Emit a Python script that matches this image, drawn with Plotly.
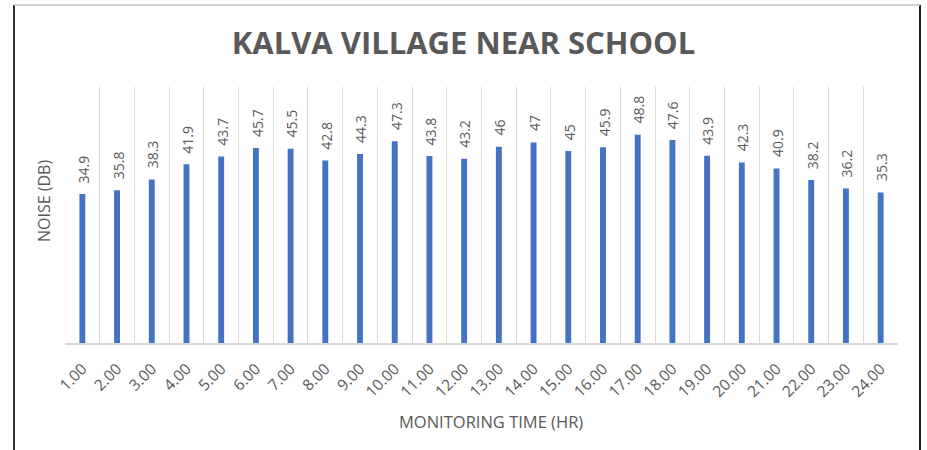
import plotly.graph_objects as go

hours = [f"{h:.2f}" for h in range(1, 25)]
noise_db = [34.9, 35.8, 38.3, 41.9, 43.7, 45.7, 45.5, 42.8, 44.3, 47.3, 43.8, 43.2,
            46, 47, 45, 45.9, 48.8, 47.6, 43.9, 42.3, 40.9, 38.2, 36.2, 35.3]

GRAY = "#595959"
FONT = "Open Sans"

fig = go.Figure(
    go.Bar(
        x=hours,
        y=noise_db,
        marker=dict(color="#4472C4", line=dict(width=0)),
        cliponaxis=False,
        hoverinfo="x+y",
    )
)

# value labels, rotated, sitting just above each bar
# (category positions given by index so "1.00" etc. aren't read as numbers)
for i, v in enumerate(noise_db):
    fig.add_annotation(x=i, y=v, text=f"{v:g}", textangle=-90,
                       xanchor="center", yanchor="bottom", yshift=9, xshift=1,
                       showarrow=False,
                       font=dict(family=FONT, size=14, color=GRAY))

# plot-area geometry in pixels
L, R, T, B = 65, 898, 87, 343
W, H = 927, 450
pw, ph = R - L, B - T
def px(x):
    return (x - L) / pw
def py(y):
    return (B - y) / ph

# frame around the whole chart
fig.add_shape(type="line", xref="paper", yref="paper",
              x0=px(14), x1=px(14), y0=py(5), y1=py(460),
              line=dict(color="#333333", width=2))
fig.add_shape(type="line", xref="paper", yref="paper",
              x0=px(920), x1=px(920), y0=py(5), y1=py(460),
              line=dict(color="#222222", width=2))
fig.add_shape(type="line", xref="paper", yref="paper",
              x0=px(14), x1=px(920), y0=py(5), y1=py(5),
              line=dict(color="#bfbfbf", width=1.5))

# axis titles
fig.add_annotation(text="NOISE (DB)", xref="paper", yref="paper",
                   x=px(44), y=py(201), xanchor="center", yanchor="middle",
                   textangle=-90, showarrow=False,
                   font=dict(family=FONT, size=16, color=GRAY))
fig.add_annotation(text="MONITORING TIME (HR)", xref="paper", yref="paper",
                   x=px(491), y=py(421), xanchor="center", yanchor="middle",
                   showarrow=False,
                   font=dict(family=FONT, size=16.5, color=GRAY))

fig.update_layout(
    width=W, height=H,
    margin=dict(l=L, r=W - R, t=T, b=H - B, pad=0),
    paper_bgcolor="white",
    plot_bgcolor="white",
    bargap=0.83,
    showlegend=False,
    title=dict(
        text="KALVA VILLAGE NEAR SCHOOL",
        font=dict(family=FONT, size=31, color=GRAY, weight="bold"),
        x=0.5, xanchor="center", xref="container",
        y=1 - 43 / H, yanchor="middle",
    ),
    xaxis=dict(
        type="category",
        range=[-0.5, len(hours) - 0.5],
        tickson="boundaries",
        showgrid=True,
        gridcolor="#d9d9d9",
        gridwidth=1,
        showline=True,
        linecolor="#d9d9d9",
        linewidth=1.5,
        ticks="",
        tickangle=-45,
        ticklabelstandoff=9,
        tickfont=dict(family=FONT, size=15.5, color=GRAY),
        fixedrange=True,
    ),
    yaxis=dict(
        range=[0, 60],
        showgrid=False,
        showticklabels=False,
        zeroline=False,
        ticks="",
        fixedrange=True,
    ),
)

fig.write_html("out.html")
